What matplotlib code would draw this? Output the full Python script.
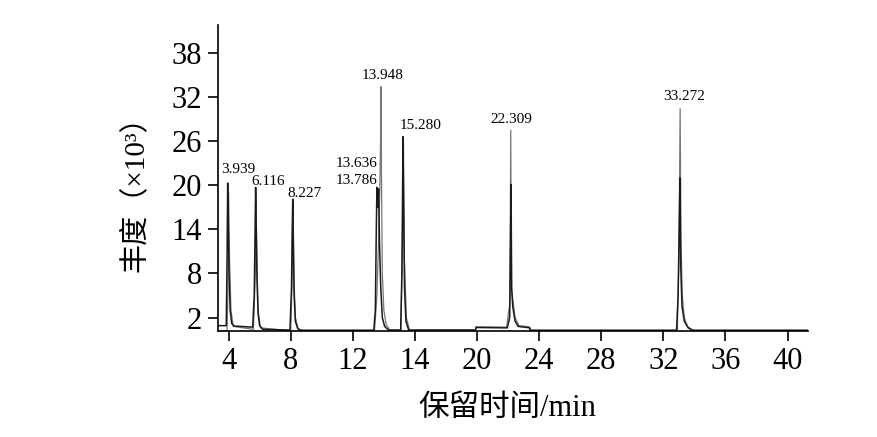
import matplotlib
matplotlib.use("Agg")
import matplotlib.pyplot as plt

plt.rcParams["font.family"] = ["Liberation Serif", "Noto Sans CJK SC"]

# x ticks are evenly spaced every 4 min, the original labels one of them "14"
x_ticks = [4, 8, 12, 16, 20, 24, 28, 32, 36, 40]
x_tick_labels = ["4", "8", "12", "14", "20", "24", "28", "32", "36", "40"]
y_ticks = [2, 8, 14, 20, 26, 32, 38]

# dark trace (time in min, abundance x10^3)
dark_t = [3.3, 3.85, 3.90, 3.94, 3.98, 4.03, 4.10, 4.20, 4.35,
          5.55, 5.65, 5.70, 5.74, 5.78, 5.83, 5.90, 6.00, 6.20,
          7.95, 8.05, 8.09, 8.13, 8.17, 8.22, 8.30, 8.45, 8.70,
          13.35, 13.45, 13.50, 13.55, 13.60, 13.66, 13.72, 13.80, 13.90, 14.05, 14.30,
          15.08, 15.16, 15.20, 15.23, 15.27, 15.33, 15.42, 15.60,
          19.90, 19.95, 21.95, 22.10, 22.15, 22.19, 22.23, 22.30, 22.45, 22.65, 23.40, 23.45,
          32.85, 32.95, 33.02, 33.07, 33.12, 33.20, 33.35, 33.60, 33.90, 41.3]
dark_a = [0.9, 0.9, 10, 20.3, 15, 8, 3, 1.2, 0.85,
          0.7, 5, 13, 19.7, 14, 7, 2.5, 0.9, 0.4,
          0.3, 6, 13, 18.1, 12, 5, 1.5, 0.5, 0.25,
          0.25, 3, 12, 19.7, 17, 19.5, 12, 6, 2, 0.8, 0.3,
          0.3, 8, 18, 26.6, 18, 6, 1.5, 0.3,
          0.3, 0.65, 0.6, 2, 12, 20.1, 6, 3.5, 1.5, 0.8, 0.6, 0.25,
          0.25, 5, 14, 21, 9, 3.5, 1.5, 0.6, 0.25, 0.25]

# lighter trace
light_t = [3.3, 3.90, 3.96, 4.00, 4.06, 4.15, 4.30,
           5.60, 5.72, 5.76, 5.82, 5.90, 6.05,
           8.00, 8.10, 8.15, 8.20, 8.30, 8.50,
           13.40, 13.55, 13.65, 13.74, 13.78, 13.81, 13.85, 13.90, 14.00, 14.15, 14.40,
           15.10, 15.22, 15.26, 15.32, 15.45, 15.65,
           19.90, 19.92, 21.90, 22.12, 22.17, 22.22, 22.30, 22.45, 22.70, 23.35, 23.40,
           32.90, 33.00, 33.08, 33.14, 33.22, 33.35, 33.55, 33.90, 41.3]
light_a = [0.2, 0.2, 6, 19, 10, 3, 0.8,
           0.4, 8, 19, 10, 3, 0.6,
           0.2, 8, 17.5, 8, 2, 0.3,
           0.3, 5, 12, 19.5, 25, 33.4, 20, 8, 3, 1, 0.3,
           0.3, 15, 26, 10, 2, 0.3,
           0.3, 0.75, 0.7, 4, 27.5, 5.8, 4.5, 2, 0.9, 0.75, 0.3,
           0.3, 10, 30.4, 12, 5, 2, 0.8, 0.3, 0.3]

peak_labels = ["3.939", "6.116", "8.227", "13.636", "13.786",
               "13.948", "15.280", "22.309", "33.272"]
label_x = [4.65, 6.58, 8.9, 12.26, 12.26, 13.94, 16.39, 22.19, 33.35]
label_y = [22.2, 20.55, 18.9, 22.9, 20.7, 34.9, 28.1, 29.0, 32.0]

fig = plt.figure(figsize=(8.78, 4.37), dpi=100)
ax = fig.add_axes([0.248, 0.243, 0.672, 0.700])

ax.plot(light_t, light_a, color="#777777", lw=0.9)
ax.plot(dark_t, dark_a, color="#1a1a1a", lw=1.1)

for txt, x, y in zip(peak_labels, label_x, label_y):
    ax.text(x, y, txt, ha="center", va="center", fontsize=11)

ax.set_xlim(3.3, 41.3)
ax.set_ylim(0.2, 41.8)
ax.set_xticks(x_ticks)
ax.set_xticklabels(x_tick_labels)
ax.set_yticks(y_ticks)
ax.tick_params(axis="both", direction="out", length=7.5, width=1.2,
               labelsize=22, pad=4)

for side in ["top", "right"]:
    ax.spines[side].set_visible(False)
for side in ["left", "bottom"]:
    ax.spines[side].set_linewidth(1.2)

ax.set_xlabel("保留时间/min", fontsize=22, va="center")
ax.xaxis.set_label_coords(0.49, -0.255)
ax.set_ylabel("丰度（×10³）", fontsize=21, va="center")
ax.yaxis.set_label_coords(-0.141, 0.47)

fig.savefig("out.png", dpi=100)
